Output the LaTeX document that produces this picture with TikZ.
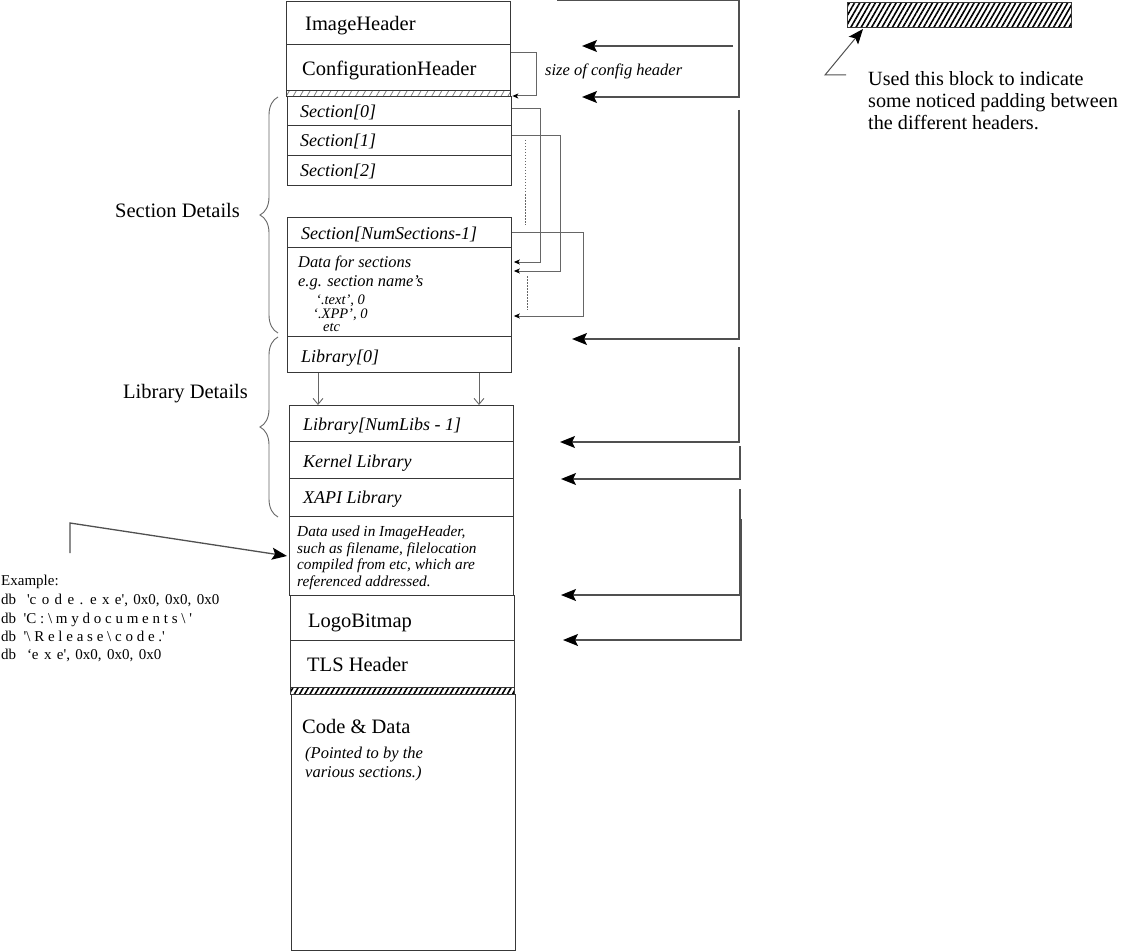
\documentclass[tikz,border=0pt]{standalone}
\usepackage{fontspec}
\setmainfont{Liberation Serif}
\usetikzlibrary{arrows.meta,patterns.meta,decorations.pathreplacing}
\definecolor{boxc}{HTML}{383838}
\definecolor{linec}{HTML}{505050}
\definecolor{thinc}{HTML}{666666}
\newcommand\mywidesp{\spaceskip=0.36em\relax}
\begin{document}
\begin{tikzpicture}[x=1pt,y=-1pt,
  box/.style={draw=boxc,line width=1.3pt,inner sep=0pt,anchor=north west,minimum width=224pt},
  uplbl/.style={font=\fontsize{20.5}{24}\selectfont,anchor=base west,inner sep=0pt},
  itlbl/.style={font=\fontsize{18}{21}\selectfont\itshape,anchor=base west,inner sep=0pt},
  smalllbl/.style={font=\fontsize{16.4}{19}\selectfont\itshape,anchor=base west,inner sep=0pt},
  tinylbl/.style={font=\fontsize{14.5}{15}\selectfont\itshape,anchor=base west,inner sep=0pt},
  dulbl/.style={font=\fontsize{15.3}{17}\selectfont\itshape,anchor=base west,inner sep=0pt},
  exlbl/.style={font=\fontsize{15}{18}\selectfont,anchor=base west,inner sep=0pt},
  leglbl/.style={font=\fontsize{20.2}{24}\selectfont,anchor=base west,inner sep=0pt},
  bigarrow/.style={draw=linec,line width=1.3pt,-{Stealth[length=15pt,width=12pt,inset=3pt,color=black,fill=black]}},
  legarrow/.style={draw=linec,line width=1pt,-{Stealth[length=15pt,width=12pt,inset=3pt,color=black,fill=black]}},
  ptr/.style={draw=thinc,line width=1pt,-{Stealth[length=6pt,width=5pt,inset=1.5pt,color=black,fill=black]}},
  libarrow/.style={draw=thinc,line width=1pt,-{Straight Barb[length=6pt,width=10pt,line width=0.9pt]}},
  bracestyle/.style={draw=thinc,line width=0.9pt,decorate,decoration={brace,amplitude=18pt}},
  lighthatch/.style={pattern={Lines[angle=60,distance=6pt,line width=0.8pt]},pattern color=gray},
  darkhatch/.style={pattern={Lines[angle=60,distance=4.5pt,line width=1.6pt]},pattern color=black}
]
\useasboundingbox (0,0) rectangle (1121,952);

% ---------- main column ----------
\node[box,minimum height=43.4pt] (ih) at (286,0.6) {};
\node[box,minimum height=46pt] (ch) at (286,44) {};
\node[box,minimum height=6pt,lighthatch] (pad1) at (286,90) {};
\node[box,minimum height=29pt] (s0) at (287,96) {};
\node[box,minimum height=30pt] (s1) at (287,125) {};
\node[box,minimum height=30pt] (s2) at (287,155) {};
\node[box,minimum height=30pt] (sn) at (287,217) {};
\node[box,minimum height=89pt] (sd) at (287,247) {};
\node[box,minimum height=36pt] (l0) at (287,336) {};
\node[box,minimum height=36pt] (ln) at (289,405) {};
\node[box,minimum height=37pt] (kl) at (289,441) {};
\node[box,minimum height=38pt] (xl) at (289,478) {};
\node[box,minimum height=79pt] (du) at (289,516) {};
\node[box,minimum height=45pt] (lb) at (290,595) {};
\node[box,minimum height=47pt] (tls) at (290,640) {};
\node[box,minimum height=7pt,darkhatch] (pad2) at (290,687) {};
\node[box,minimum height=256pt] (cd) at (291,694) {};

% ---------- labels ----------
\node[uplbl] (tih) at (305,31) {ImageHeader};
\node[uplbl] (tch) at (302,76) {ConfigurationHeader};
\node[itlbl] (ts0) at (300,118) {Section[0]};
\node[itlbl] (ts1) at (300,147) {Section[1]};
\node[itlbl] (ts2) at (300,177) {Section[2]};
\node[itlbl] (tsn) at (301,239) {Section[NumSections-1]};
\node[smalllbl] (tsd1) at (298,267) {Data for sections};
\node[smalllbl] (tsd2) at (298,286) {e.g. section name's};
\node[tinylbl] (tsd3) at (316,304) {`.text', 0};
\node[tinylbl] (tsd4) at (313,318) {`.XPP', 0};
\node[tinylbl] (tsd5) at (323,331) {etc};
\node[itlbl] (tl0) at (301,362) {Library[0]};
\node[itlbl] (tln) at (303,430) {Library[NumLibs - 1]};
\node[itlbl] (tkl) at (303,467) {Kernel Library};
\node[itlbl] (txl) at (303,503) {XAPI Library};
\node[dulbl] (tdu1) at (297,536) {Data used in ImageHeader,};
\node[dulbl] (tdu2) at (297,553) {such as filename, filelocation};
\node[dulbl] (tdu3) at (297,569) {compiled from etc, which are};
\node[dulbl] (tdu4) at (297,586) {referenced addressed.};
\node[uplbl] (tlb) at (308,627) {LogoBitmap};
\node[uplbl] (ttls) at (307,671) {TLS Header};
\node[uplbl] (tcd) at (302,733) {Code \& Data};
\node[font=\fontsize{16.5}{19}\selectfont\itshape,anchor=base west,inner sep=0pt] (tcd1) at (305,758) {(Pointed to by the};
\node[font=\fontsize{16.5}{19}\selectfont\itshape,anchor=base west,inner sep=0pt] (tcd2) at (305,777) {various sections.)};

\node[font=\fontsize{16.5}{19}\selectfont\itshape,anchor=base west,inner sep=0pt] (tsize) at (545,76) {size of config header};

% ---------- braces ----------
\coordinate (bs1) at (278,333);
\coordinate (bs2) at (278,97);
\coordinate (bl1) at (278,517);
\coordinate (bl2) at (278,337);
\draw[bracestyle] (bs1) -- (bs2);
\draw[bracestyle] (bl1) -- (bl2);
\node[uplbl] (tsecd) at (115,217) {Section Details};
\node[uplbl] (tlibd) at (123,398) {Library Details};

% ---------- config size bracket ----------
\coordinate (cb1) at (536,53);
\coordinate (cb2) at (536,96);
\draw[ptr] (ch.east |- cb1) -- (cb1) -- (cb2) -- ([xshift=1.5pt]pad1.east |- cb2);

% ---------- section pointers ----------
\coordinate (p0) at (540,109);
\coordinate (p0b) at (540,262);
\coordinate (p1) at (560,136);
\coordinate (p1b) at (560,271);
\coordinate (pn) at (583,232);
\coordinate (pnb) at (583,316);
\draw[ptr] (s0.east |- p0) -- (p0) -- (p0b) -- ([xshift=1.5pt]sd.east |- p0b);
\draw[ptr] (s1.east |- p1) -- (p1) -- (p1b) -- ([xshift=1.5pt]sd.east |- p1b);
\draw[ptr] (sn.east |- pn) -- (pn) -- (pnb) -- ([xshift=1.5pt]sd.east |- pnb);
\coordinate (d1a) at (525,140);
\coordinate (d1b) at (525,225);
\coordinate (d2a) at (527,276);
\coordinate (d2b) at (527,310);
\draw[thinc,line width=0.8pt,dash pattern=on 1.5pt off 1.5pt] (d1a) -- (d1b);
\draw[thinc,line width=0.8pt,dash pattern=on 1.5pt off 1.5pt] (d2a) -- (d2b);

% ---------- library arrows ----------
\draw[libarrow] (l0.south -| 318,0) -- (ln.north -| 318,0);
\draw[libarrow] (l0.south -| 479,0) -- (ln.north -| 479,0);

% ---------- right side offsets ----------
\coordinate (r1s) at (557,0.6);
\coordinate (r1a) at (739,0.6);
\coordinate (r1b) at (739,97);
\coordinate (r1e) at (582,97);
\draw[bigarrow] (r1s) -- (r1a) -- (r1b) -- (r1e);
\coordinate (r2s) at (733,46);
\coordinate (r2e) at (582,46);
\draw[bigarrow] (r2s) -- (r2e);
\coordinate (r3s) at (739,110);
\coordinate (r3b) at (739,339);
\coordinate (r3e) at (572,339);
\draw[bigarrow] (r3s) -- (r3b) -- (r3e);
\coordinate (r4s) at (739,347);
\coordinate (r4b) at (739,442);
\coordinate (r4e) at (560,442);
\draw[bigarrow] (r4s) -- (r4b) -- (r4e);
\coordinate (r5s) at (740,446);
\coordinate (r5b) at (740,479);
\coordinate (r5e) at (561,479);
\draw[bigarrow] (r5s) -- (r5b) -- (r5e);
\coordinate (r6s) at (740,489);
\coordinate (r6b) at (740,595);
\coordinate (r6e) at (561,595);
\draw[bigarrow] (r6s) -- (r6b) -- (r6e);
\coordinate (r7s) at (741,519);
\coordinate (r7b) at (741,640);
\coordinate (r7e) at (563,640);
\draw[bigarrow] (r7s) -- (r7b) -- (r7e);

% ---------- example ----------
\node[exlbl] (ex0) at (1,585) {Example:};
\node[exlbl] (ex1) at (1,604) {\mywidesp db\ \ \textquotesingle c o d e . e x e\textquotesingle, 0x0, 0x0, 0x0};
\node[exlbl] (ex2) at (1,623) {db\ \ \textquotesingle C : \textbackslash\ m y d o c u m e n t s \textbackslash\ \textquotesingle};
\node[exlbl] (ex3) at (1,641) {db\ \ \textquotesingle\textbackslash\ R e l e a s e \textbackslash\ c o d e .\textquotesingle};
\node[exlbl] (ex4) at (1,659) {\mywidesp db\ \ `e x e\textquotesingle, 0x0, 0x0, 0x0};
\coordinate (e1) at (70,553);
\coordinate (e2) at (70,523);
\draw[bigarrow] (e1) -- (e2) -- ([xshift=-2pt]du.west |- 0,556);

% ---------- legend ----------
\node[draw=boxc,line width=1pt,darkhatch,minimum width=224pt,minimum height=25pt,inner sep=0pt,anchor=north west] (leg) at (847,2) {};
\coordinate (g1) at (846,75);
\coordinate (g2) at (825,75);
\draw[legarrow] (g1) -- (g2) -- ([xshift=16pt,yshift=-1pt]leg.south west);
\node[leglbl] (lt1) at (868,86) {Used this block to indicate};
\node[leglbl] (lt2) at (868,108) {some noticed padding between};
\node[leglbl] (lt3) at (868,130) {the different headers.};
\end{tikzpicture}
\end{document}
